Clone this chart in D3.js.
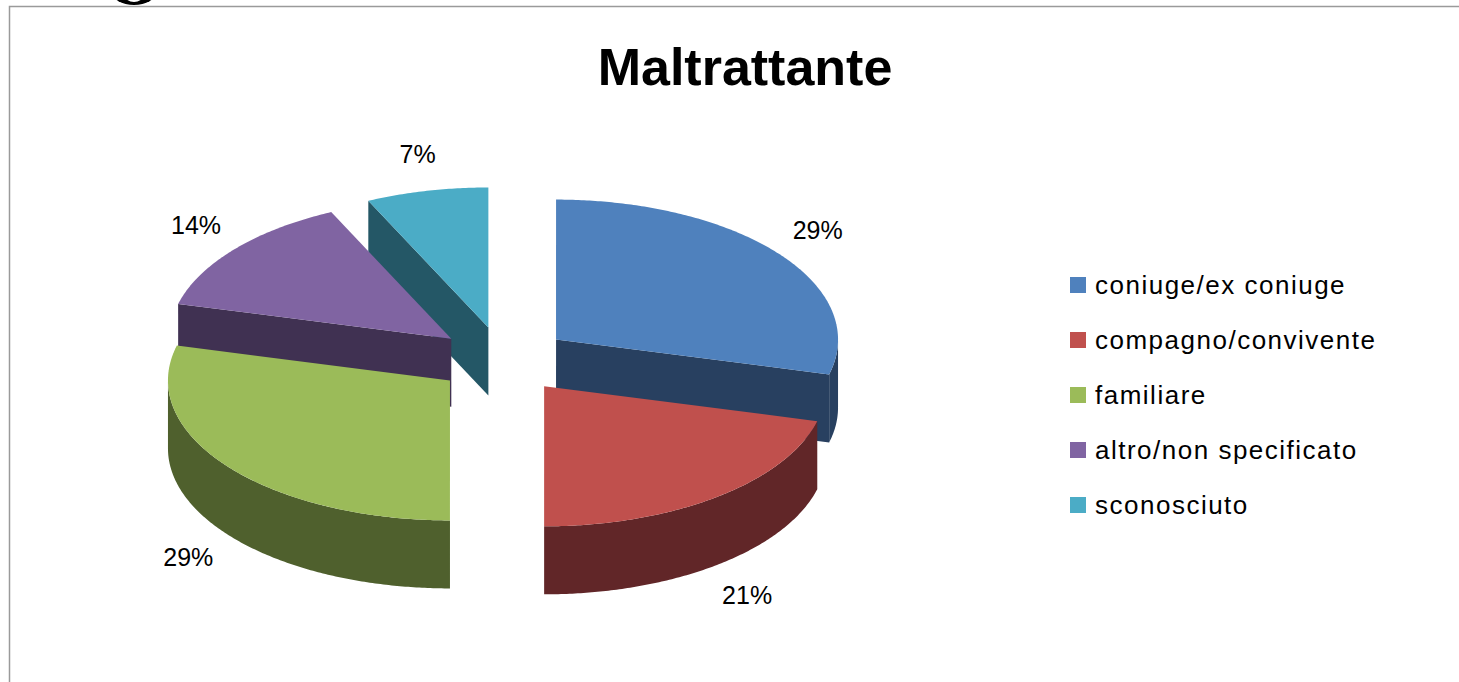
<!DOCTYPE html>
<html>
<head>
<meta charset="utf-8">
<script src="https://cdn.jsdelivr.net/npm/d3@7"></script>
<style>
  html, body { margin: 0; padding: 0; background: #fff; }
  svg { display: block; }
</style>
</head>
<body>
<svg id="chart" width="1459" height="682"></svg>
<script>
// ---- data ----
const categories = ["coniuge/ex coniuge", "compagno/convivente", "familiare", "altro/non specificato", "sconosciuto"];
const values = [29, 21, 29, 14, 7];
const topColors = ["#4F81BD", "#C0504D", "#9BBB59", "#8064A2", "#4BACC6"];
const sideColors = ["#284060", "#612628", "#4F602D", "#403152", "#245766"];
const title = "Maltrattante";

const svg = d3.select("#chart");

// frame
svg.append("path")
  .attr("d", "M9.5,682 L9.5,6.5 L1459,6.5")
  .attr("fill", "none").attr("stroke", "#9a9a9a").attr("stroke-width", 1.5);

// fragment of a cropped glyph above the frame
svg.append("path")
  .attr("d", d3.arc()({ innerRadius: 0, outerRadius: 0, startAngle: 0, endAngle: 0 }) || "")
  .attr("fill", "none");
const frag = d3.path();
frag.ellipse ? null : null;
svg.append("ellipse").attr("cx", 134).attr("cy", -8).attr("rx", 22).attr("ry", 13).attr("fill", "#000");
svg.append("ellipse").attr("cx", 134).attr("cy", -8).attr("rx", 11).attr("ry", 10).attr("fill", "#fff");

// title
svg.append("text").attr("x", 745).attr("y", 85).attr("text-anchor", "middle")
  .attr("font-family", "Liberation Sans").attr("font-weight", "bold").attr("font-size", 52)
  .attr("fill", "#000").text(title);

// 3D pie geometry
const cx = 503, cy = 360, rx = 282, ry = 140, depth = 68, explode = 0.238;
const pie = d3.pie().sort(null).value(d => d)(values);

function pt(c, a, z) { return [c[0] + rx * Math.sin(a), c[1] - ry * Math.cos(a) + (z || 0)]; }
function arcPts(c, a0, a1, z) {
  const n = Math.max(2, Math.ceil(Math.abs(a1 - a0) / 0.01));
  return d3.range(n + 1).map(i => pt(c, a0 + (a1 - a0) * i / n, z));
}
const line = d3.line();

const slices = pie.map((p, i) => {
  const mid = (p.startAngle + p.endAngle) / 2;
  const c = [cx + explode * rx * Math.sin(mid), cy - explode * ry * Math.cos(mid)];
  return { i, p, mid, c };
});
const order = slices.slice().sort((a, b) => Math.cos(b.mid) - Math.cos(a.mid));

const g = svg.append("g");
order.forEach(s => {
  const { p, c, i } = s;
  const a0 = p.startAngle, a1 = p.endAngle;
  const side = sideColors[i];
  // radial faces
  if (Math.sin(a0) < -1e-6) {
    const r = pt(c, a0, 0);
    g.append("path").attr("d", line([c, r, [r[0], r[1] + depth], [c[0], c[1] + depth]]) + "Z")
      .attr("fill", side);
  }
  if (Math.sin(a1) > 1e-6) {
    const r = pt(c, a1, 0);
    g.append("path").attr("d", line([c, r, [r[0], r[1] + depth], [c[0], c[1] + depth]]) + "Z")
      .attr("fill", side);
  }
  // outer side (front half only)
  const s0 = Math.max(a0, Math.PI / 2), s1 = Math.min(a1, 3 * Math.PI / 2);
  if (s1 > s0) {
    const pts = arcPts(c, s0, s1, 0).concat(arcPts(c, s1, s0, depth));
    g.append("path").attr("d", line(pts) + "Z").attr("fill", side);
  }
  // top face
  const top = [c].concat(arcPts(c, a0, a1, 0));
  g.append("path").attr("d", line(top) + "Z").attr("fill", topColors[i]);
});

// percentage labels (outside end)
const kx = 1.1, ky = 1.2;
slices.forEach(s => {
  const front = Math.cos(s.mid) < 0;
  const txt = values[s.i] + "%";
  const hw = txt.length * 7, hh = 10;
  const x = s.c[0] + kx * rx * Math.sin(s.mid) + hw * Math.sin(s.mid);
  const y = s.c[1] - ky * ry * Math.cos(s.mid) + (front ? depth : 0) - hh * Math.cos(s.mid);
  svg.append("text").attr("x", x).attr("y", y).attr("dy", "0.35em")
    .attr("text-anchor", "middle")
    .attr("font-family", "Liberation Sans").attr("font-size", 25).attr("fill", "#000")
    .text(txt);
});

// legend
const ly = d3.scalePoint().domain(categories).range([285, 505]);
const leg = svg.append("g");
categories.forEach((cat, i) => {
  leg.append("rect").attr("x", 1070).attr("y", ly(cat) - 8).attr("width", 16).attr("height", 16)
    .attr("fill", topColors[i]);
  leg.append("text").attr("x", 1095).attr("y", ly(cat)).attr("dy", "0.35em")
    .attr("font-family", "Liberation Sans").attr("font-size", 26).attr("letter-spacing", 1.5)
    .attr("fill", "#000").text(cat);
});
</script>
</body>
</html>
